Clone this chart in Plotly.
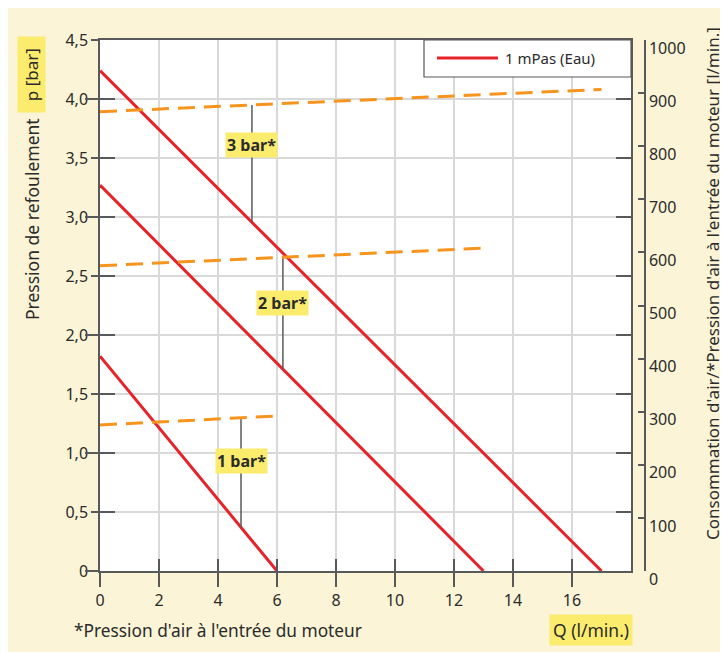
import plotly.graph_objects as go

# ---------------- data ----------------
pressures = ["1 bar*", "2 bar*", "3 bar*"]
# water (1 mPas) delivery curves: flow Q [l/min] vs discharge pressure p [bar]
q_1bar = [0, 6]
p_1bar = [1.82, 0]
q_2bar = [0, 13]
p_2bar = [3.27, 0]
q_3bar = [0, 17]
p_3bar = [4.24, 0]
# air consumption [l/min] vs Q
air_q_1bar = [0, 6]
air_1bar = [275, 292]
air_q_2bar = [0, 13]
air_2bar = [575, 608]
air_q_3bar = [0, 17]
air_3bar = [865, 907]
# label anchor positions (data units)
label_q = [4.78, 6.2, 5.15]
label_p = [0.93, 2.27, 3.61]

x_ticks = [0, 2, 4, 6, 8, 10, 12, 14, 16]
x_labels = ["0", "2", "4", "6", "8", "10", "12", "14", "16"]
y_ticks = [0, 0.5, 1, 1.5, 2, 2.5, 3, 3.5, 4, 4.5]
y_labels = ["0", "0,5", "1,0", "1,5", "2,0", "2,5", "3,0", "3,5", "4,0", "4,5"]
y2_ticks = [0, 100, 200, 300, 400, 500, 600, 700, 800, 900, 1000]
y2_labels = [str(v) for v in y2_ticks]

P_MAX = 4.5
AIR_MAX = 1000

RED = "#e52329"
ORANGE = "#f7941d"
GRID = "#d9d9d9"
AX = "#58595b"
TXT = "#2b2b2b"
BG = "#fbf4d6"
HL = "#fbec6e"
FONT = "Noto Sans"

fig = go.Figure()

red_sets = [(q_1bar, p_1bar), (q_2bar, p_2bar), (q_3bar, p_3bar)]
air_sets = [(air_q_1bar, air_1bar), (air_q_2bar, air_2bar), (air_q_3bar, air_3bar)]

for (qx, pv) in red_sets:
    fig.add_trace(go.Scatter(x=qx, y=pv, mode="lines", line=dict(color=RED, width=3),
                             name="1 mPas (Eau)", showlegend=False, yaxis="y", hoverinfo="skip"))
for (qx, av) in air_sets:
    fig.add_trace(go.Scatter(x=qx, y=av, mode="lines",
                             line=dict(color=ORANGE, width=3, dash="17px,9px"),
                             showlegend=False, yaxis="y2", hoverinfo="skip"))


def interp(xs, ys, x):
    return ys[0] + (ys[1] - ys[0]) * (x - xs[0]) / (xs[1] - xs[0])


# connectors from the air-consumption line down to the water curve
for i, name in enumerate(pressures):
    qx = label_q[i]
    top = interp(*air_sets[i], qx) * P_MAX / AIR_MAX
    bot = interp(*red_sets[i], qx)
    fig.add_trace(go.Scatter(x=[qx, qx], y=[top, bot], mode="lines",
                             line=dict(color=AX, width=1.5), showlegend=False, hoverinfo="skip"))
    fig.add_annotation(x=qx, y=label_p[i], xref="x", yref="y", text="<b>%s</b>" % name,
                       showarrow=False, bgcolor=HL, borderpad=1,
                       font=dict(family=FONT, size=16, color=TXT))

# helper traces to activate helper axes (tick decorations only)
fig.add_trace(go.Scatter(x=[None], y=[None], yaxis="y3", showlegend=False))
fig.add_trace(go.Scatter(x=[None], y=[None], yaxis="y4", showlegend=False))
fig.add_trace(go.Scatter(x=[None], y=[None], xaxis="x2", showlegend=False))

# ---------------- layout ----------------
dom_end = 531 / 545
fig.update_layout(
    width=728, height=652,
    margin=dict(l=92, r=91, t=32, b=89),
    paper_bgcolor=BG, plot_bgcolor="white",
    font=dict(family=FONT, size=16, color=TXT),
    showlegend=False,
    xaxis=dict(domain=[0, dom_end], range=[0, 18], tickvals=x_ticks, ticktext=x_labels,
               showgrid=True, gridcolor=GRID, gridwidth=1.5,
               showline=True, linecolor=AX, linewidth=1.5, mirror=True,
               ticks="outside", ticklen=14, tickcolor=AX, tickwidth=1.5,
               zeroline=False, fixedrange=True),
    xaxis2=dict(range=[0, 18], tickvals=x_ticks, overlaying="x", anchor="y", side="bottom",
                showgrid=False, showline=False, showticklabels=False,
                ticks="inside", ticklen=12, tickcolor=AX, tickwidth=1.5,
                zeroline=False, fixedrange=True),
    yaxis=dict(range=[0, P_MAX], tickvals=y_ticks, ticktext=y_labels,
               showgrid=True, gridcolor=GRID, gridwidth=1.5,
               showline=True, linecolor=AX, linewidth=1.5, mirror=True,
               ticks="outside", ticklen=7, tickcolor=AX, tickwidth=1.5,
               zeroline=False, fixedrange=True),
    yaxis2=dict(range=[0, AIR_MAX], tickvals=y2_ticks, ticktext=y2_labels,
                overlaying="y", side="right", anchor="free", position=1,
                showgrid=False, showline=True, linecolor=AX, linewidth=1.5,
                ticks="inside", ticklen=6, tickcolor=AX, tickwidth=1.5,
                ticklabelshift=8,
                zeroline=False, fixedrange=True),
    yaxis3=dict(range=[0, P_MAX], dtick=1, tick0=0, overlaying="y", anchor="x",
                showgrid=False, showline=False, showticklabels=False,
                ticks="outside", ticklen=14, tickcolor=AX, tickwidth=1.5,
                zeroline=False, fixedrange=True),
    yaxis4=dict(range=[0, P_MAX], tickvals=y_ticks, overlaying="y", anchor="x",
                showgrid=False, showline=False, showticklabels=False, mirror="ticks",
                ticks="inside", ticklen=15, tickcolor=AX, tickwidth=1.5,
                zeroline=False, fixedrange=True),
)

# positions below are given in screenshot pixels relative to the plot area (left 100, top 40)
def px(x):
    return (x - 100) / 545


def py(y):
    return (571 - y) / 531


# legend box (manual to match the long line sample)
fig.add_shape(type="rect", xref="paper", yref="paper",
              x0=px(424), x1=dom_end, y0=py(77), y1=1,
              fillcolor="white", line=dict(color=AX, width=1.2), layer="above")
fig.add_shape(type="line", xref="paper", yref="paper",
              x0=px(437), x1=px(498), y0=py(58), y1=py(58),
              line=dict(color=RED, width=3), layer="above")
fig.add_annotation(xref="paper", yref="paper", x=px(503), y=py(58),
                   text="1 mPas (Eau)", showarrow=False, xanchor="left", yanchor="middle",
                   font=dict(family=FONT, size=15, color=TXT))

# axis titles
fig.add_annotation(xref="paper", yref="paper", x=px(31), y=py(75),
                   text="&nbsp;&nbsp;p [bar]&nbsp;&nbsp;", textangle=-90, showarrow=False,
                   bgcolor=HL, xanchor="center", yanchor="middle", borderpad=2,
                   font=dict(family=FONT, size=17, color=TXT))
fig.add_annotation(xref="paper", yref="paper", x=px(32), y=py(219),
                   text="Pression de refoulement", textangle=-90, showarrow=False,
                   xanchor="center", yanchor="middle",
                   font=dict(family=FONT, size=17.5, color=TXT))
fig.add_annotation(xref="paper", yref="paper", x=px(712), y=py(284),
                   text="Consommation d'air/*Pression d'air à l'entrée du moteur [l/min.]",
                   textangle=-90, showarrow=False, xanchor="center", yanchor="middle",
                   font=dict(family=FONT, size=17, color=TXT))
fig.add_annotation(xref="paper", yref="paper", x=px(72), y=py(630),
                   text="*Pression d'air à l'entrée du moteur", showarrow=False,
                   xanchor="left", yanchor="middle",
                   font=dict(family=FONT, size=17.3, color=TXT))
fig.add_annotation(xref="paper", yref="paper", x=px(591), y=py(630),
                   text="Q (l/min.)", showarrow=False, bgcolor=HL, borderpad=3,
                   xanchor="center", yanchor="middle",
                   font=dict(family=FONT, size=17.5, color=TXT))

fig.write_html("out.html")
